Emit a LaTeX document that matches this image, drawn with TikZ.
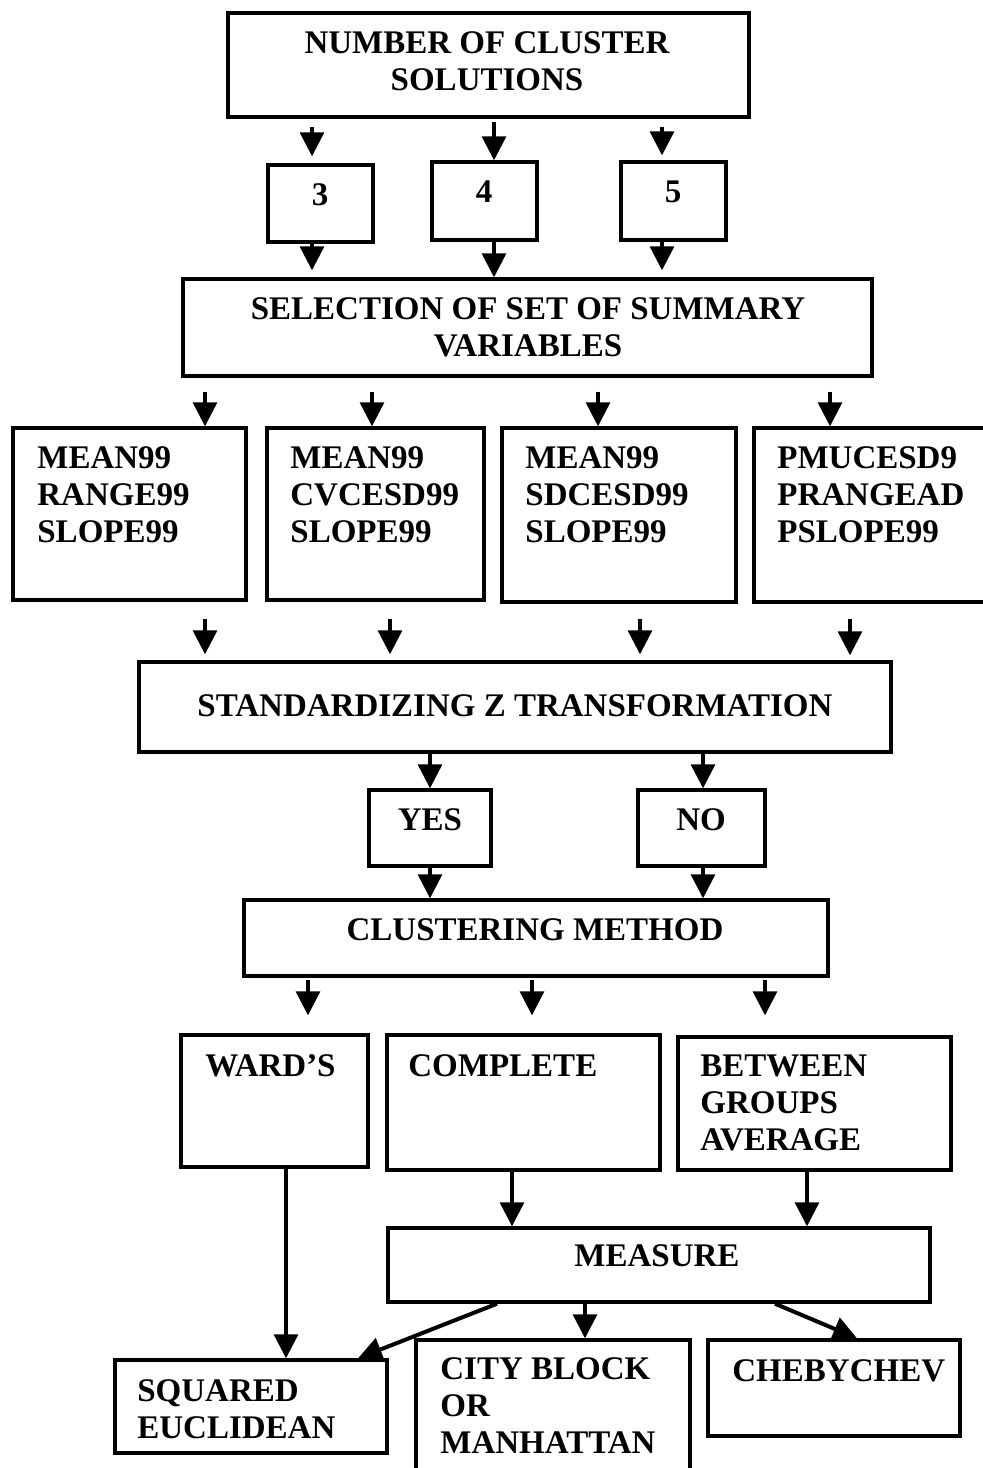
\documentclass[tikz,border=0pt]{standalone}
\usepackage{fontspec}
\setmainfont{Liberation Serif}
\usetikzlibrary{arrows.meta}
\tikzset{
  box/.style={draw=black, line width=1.7pt, rectangle, inner sep=0pt},
  txt/.style={inner sep=0pt, font=\bfseries\fontsize{16.5}{18.5}\selectfont},
  arr/.style={draw=black, line width=1.6pt, -{Triangle[length=12pt,width=12pt]}}
}
\newcommand\bx[5]{\node[box,minimum width={(#4-#2)*0.5pt},minimum height={(#5-#3)*0.5pt}] (#1) at ({(#2+#4)/2},{(#3+#5)/2}) {};}
\begin{document}
\begin{tikzpicture}[x=0.5pt,y=-0.5pt]
\useasboundingbox (0,0) rectangle (982,1468);
% boxes
\bx{top}{228}{13}{749}{117}
\bx{b3}{268}{165}{373}{242}
\bx{b4}{432}{162}{537}{240}
\bx{b5}{621}{162}{726}{240}
\bx{sel}{183}{279}{872}{376}
\bx{v1}{13}{428}{246}{600}
\bx{v2}{267}{428}{484}{600}
\bx{v3}{502}{428}{736}{602}
\bx{v4}{754}{428}{992}{602}
\bx{std}{139}{662}{891}{752}
\bx{yes}{369}{790}{491}{866}
\bx{no}{638}{790}{765}{866}
\bx{clu}{244}{900}{828}{976}
\bx{ward}{181}{1035}{368}{1167}
\bx{comp}{387}{1035}{660}{1170}
\bx{betw}{678}{1037}{951}{1170}
\bx{meas}{388}{1228}{930}{1302}
\bx{sq}{115}{1360}{387}{1453}
\bx{city}{416}{1340}{690}{1480}
\bx{cheb}{708}{1340}{960}{1436}
% texts
\node[txt,align=center,anchor=north] (ttop) at (487,31) {NUMBER OF CLUSTER\\SOLUTIONS};
\node[txt] (t3) at (320,195) {3};
\node[txt] (t4) at (484,192) {4};
\node[txt] (t5) at (673,192) {5};
\node[txt,align=center,anchor=north] (tsel) at (528,297) {SELECTION OF SET OF SUMMARY\\VARIABLES};
\node[txt,align=left,anchor=north west] (tv1) at (37,446) {MEAN99\\RANGE99\\SLOPE99};
\node[txt,align=left,anchor=north west] (tv2) at (290,446) {MEAN99\\CVCESD99\\SLOPE99};
\node[txt,align=left,anchor=north west] (tv3) at (525,446) {MEAN99\\SDCESD99\\SLOPE99};
\node[txt,align=left,anchor=north west] (tv4) at (777,446) {PMUCESD9\\PRANGEAD\\PSLOPE99};
\node[txt] (tstd) at (515,706) {STANDARDIZING Z TRANSFORMATION};
\node[txt] (tyes) at (430,820) {YES};
\node[txt] (tno) at (701,820) {NO};
\node[txt] (tclu) at (535,930) {CLUSTERING METHOD};
\node[txt,anchor=north west] (tward) at (205,1054) {WARD'S};
\node[txt,anchor=north west] (tcomp) at (408,1054) {COMPLETE};
\node[txt,align=left,anchor=north west] (tbetw) at (700,1054) {BETWEEN\\GROUPS\\AVERAGE};
\node[txt] (tmeas) at (657,1256) {MEASURE};
\node[txt,align=left,anchor=north west] (tsq) at (137,1379) {SQUARED\\EUCLIDEAN};
\node[txt,align=left,anchor=north west] (tcity) at (440,1357) {CITY BLOCK\\OR\\MANHATTAN};
\node[txt,anchor=north west] (tcheb) at (732,1359) {CHEBYCHEV};
% arrows
\draw[arr,shorten <=4pt,shorten >=3.5pt] (top.south -| 312,0) -- (b3.north -| 312,0);
\draw[arr,shorten <=1.5pt] (top.south -| 494,0) -- (b4.north -| 494,0);
\draw[arr,shorten <=4pt,shorten >=2.5pt] (top.south -| 662,0) -- (b5.north -| 662,0);
\draw[arr,shorten >=3.5pt] (b3.south -| 312,0) -- (sel.north -| 312,0);
\draw[arr] (b4.south -| 494,0) -- (sel.north -| 494,0);
\draw[arr,shorten >=3.5pt] (b5.south -| 662,0) -- (sel.north -| 662,0);
\draw[arr,shorten <=7pt] (sel.south -| 205,0) -- (v1.north -| 205,0);
\draw[arr,shorten <=7pt] (sel.south -| 372,0) -- (v2.north -| 372,0);
\draw[arr,shorten <=7pt] (sel.south -| 598,0) -- (v3.north -| 598,0);
\draw[arr,shorten <=7pt] (sel.south -| 830,0) -- (v4.north -| 830,0);
\draw[arr,shorten <=8.5pt,shorten >=3pt] (v1.south -| 205,0) -- (std.north -| 205,0);
\draw[arr,shorten <=8.5pt,shorten >=3pt] (v2.south -| 390,0) -- (std.north -| 390,0);
\draw[arr,shorten <=7.5pt,shorten >=3pt] (v3.south -| 640,0) -- (std.north -| 640,0);
\draw[arr,shorten <=7.5pt,shorten >=2.5pt] (v4.south -| 850,0) -- (std.north -| 850,0);
\draw[arr] (std.south -| 430,0) -- (yes.north -| 430,0);
\draw[arr] (std.south -| 703,0) -- (no.north -| 703,0);
\draw[arr] (yes.south -| 430,0) -- (clu.north -| 430,0);
\draw[arr] (no.south -| 703,0) -- (clu.north -| 703,0);
\draw[arr,shorten <=1pt,shorten >=9pt] (clu.south -| 308,0) -- (ward.north -| 308,0);
\draw[arr,shorten <=1pt,shorten >=9pt] (clu.south -| 532,0) -- (comp.north -| 532,0);
\draw[arr,shorten <=1pt,shorten >=10pt] (clu.south -| 765,0) -- (betw.north -| 765,0);
\draw[arr] (ward.south -| 286,0) -- (sq.north -| 286,0);
\draw[arr] (comp.south -| 512,0) -- (meas.north -| 512,0);
\draw[arr] (betw.south -| 807,0) -- (meas.north -| 807,0);
\draw[arr,line width=2pt] (meas.south -| 497,0) -- (sq.north -| 358,0);
\draw[arr] (meas.south -| 585,0) -- (city.north -| 585,0);
\draw[arr,line width=2pt] (meas.south -| 775,0) -- (cheb.north -| 857,0);
\end{tikzpicture}
\end{document}
